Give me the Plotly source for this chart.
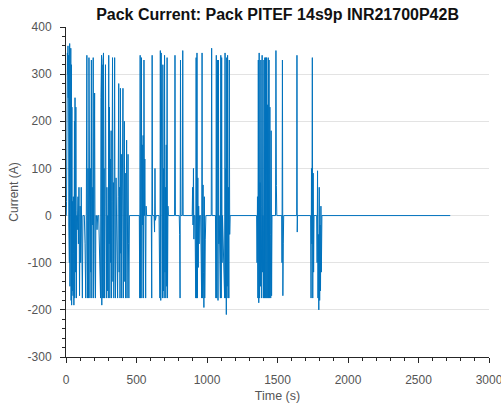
import plotly.graph_objects as go

# (time s, current A)
time_s = [
    0, 2, 4, 6, 8, 10, 12, 14, 16, 18, 20, 22, 24, 26, 28, 30, 32, 34, 36, 38, 40, 42, 44, 46, 48,
    50, 52, 54, 56, 58, 60, 62, 64, 66, 68, 70, 72, 74, 76, 80, 85, 88, 92, 96, 100, 104, 108, 112,
    116, 120, 125, 130, 135, 140, 144, 148, 150, 152, 156, 160, 163, 166, 168, 170, 173, 176, 180,
    183, 186, 190, 193, 196, 200, 203, 206, 209, 212, 216, 220, 225, 232, 240, 245, 248, 250, 252,
    254, 256, 258, 260, 262, 264, 266, 268, 270, 273, 276, 280, 283, 286, 290, 293, 296, 300, 303,
    306, 308, 311, 314, 317, 320, 323, 326, 330, 333, 336, 339, 342, 345, 348, 351, 355, 358, 362,
    366, 370, 374, 377, 380, 383, 386, 389, 392, 395, 398, 401, 404, 407, 410, 414, 417, 420, 423,
    426, 430, 433, 436, 440, 443, 446, 450, 455,
    520, 523, 526, 529, 532, 535, 538, 541, 544, 547, 550, 553, 556, 559, 562, 565, 568, 572, 605,
    608, 611, 614, 625, 628, 631, 634, 640, 660, 663, 666, 669, 672, 675, 678, 681, 684, 687, 690,
    693, 696, 699, 702, 705, 708, 711, 714, 717, 720, 723, 726, 770, 773, 776, 803, 806, 809, 812,
    815, 825, 828, 831, 890, 895, 898, 901, 904, 907, 910, 915,
    918, 920, 923, 926, 929, 932, 935, 938, 941, 944, 947, 955, 962, 965, 968, 972, 975, 978, 981,
    984, 988, 992, 1030, 1033, 1036, 1060, 1063, 1066, 1069, 1072, 1075, 1078, 1081, 1084, 1087,
    1095, 1098, 1101, 1104, 1107, 1110, 1125, 1128, 1131, 1134, 1137, 1140, 1143, 1146, 1149, 1152,
    1155, 1158, 1161, 1164,
    1352, 1355, 1358, 1361, 1364, 1367, 1370, 1373, 1376, 1379, 1382, 1385, 1388, 1391, 1394, 1397,
    1401, 1404, 1407, 1410, 1413, 1416, 1419, 1422, 1425, 1428, 1431, 1434, 1437, 1440, 1443, 1446,
    1449, 1452, 1455, 1458, 1461, 1486, 1489, 1492, 1495, 1530, 1532, 1535, 1538, 1541, 1544, 1636,
    1638, 1640, 1642, 1735, 1738, 1741, 1744, 1747, 1750, 1753, 1756, 1759, 1778, 1781, 1784, 1787,
    1790, 1793, 1796, 1799, 1802, 1805, 1808, 1811, 1815, 2725,
]

current_a = [
    0, 0, 30, 330, 320, 345, 300, 360, 250, 340, -20, 350, -100, 365, -150, 340, -60, 355, -180, 320,
    -190, 230, -160, 30, -120, -170, 40, -80, -190, 20, 200, -175, 250, -50, -120, 230, 10, -175, 0,
    -30, 40, -60, 60, -170, 20, -100, 60, -40, -175, 0, 0, 0, -60, -175, 0, 340, -10, -175, 100,
    -175, 335, -10, 330, -175, 100, -120, 330, -175, 60, -20, 335, -175, 50, 260, -80, -175, 0, 0,
    -30, 0, 0, -100, -175, 250, -120, 340, -190, 320, 50, -175, 330, -60, 345, -175, 100, -175, 20,
    320, -120, -175, 60, -160, 0, -175, 340, -60, 230, -175, 120, -100, 180, -175, 30, 335, -140, 70,
    -175, 20, 335, -90, -175, 80, -30, 0, -175, 40, 280, -120, 60, -175, 270, -80, 130, -175, 160,
    -40, 270, -175, 30, 200, -140, 90, -175, -30, 160, -175, 40, 130, -60, -175, 0, 0,
    0, -175, 340, -175, -50, 335, -175, 150, -20, 170, -175, 330, 0, 120, -90, -175, 20, 0, 0,
    -175, 340, 0, 0, -35, 100, -10, 0, 0, -100, -175, 350, -180, 345, -40, 200, -175, 320, -160,
    100, -175, 340, -120, 60, -175, 150, -150, 335, -175, 20, 0, 0, 340, 0, 0, -40, -175, 330,
    0, 0, 350, 0, 0, 0, 60, -20, 100, -50, 0, 0,
    -100, -175, 335, -175, 345, -175, 80, -110, 20, -60, 0, 0, -175, 345, -175, 65, -120, -195, 40,
    -175, -50, 0, 0, 355, 0, 0, -175, 340, -175, -20, 330, -180, 330, -60, 0,
    -175, 340, -175, 335, -100, 0, -175, 345, -175, 100, -210, 335, -150, 340, -175, 60,
    -175, 330, -40, 0,
    0, -100, 40, -175, 330, -185, 345, -175, 70, -150, 330, 20, -175, 340, -120, 0,
    -175, 330, -175, 335, -175, 335, -175, 335, -175, 235, -175, 335, -175, 330, -175, 230,
    -40, -175, 180, -170, 0, 0, 350, 64, 0, 0, -100, 330, -170, -60, 0, 0,
    340, -35, 0, 0, -175, 100, -60, 335, -175, 90, -120, 0, 0, -100, 95, -175,
    -40, -200, 60, -180, -20, -160, 20, -120, 0, 0,
]

x_ticks = [0, 500, 1000, 1500, 2000, 2500, 3000]
y_ticks = [-300, -200, -100, 0, 100, 200, 300, 400]

FONT = "Liberation Sans, Arial, sans-serif"
AXIS_COLOR = "#262626"
LABEL_COLOR = "#555555"

fig = go.Figure()
fig.add_trace(go.Scatter(
    x=time_s, y=current_a, mode="lines",
    line=dict(color="#0072BD", width=1),
    showlegend=False, hoverinfo="skip",
))

fig.update_layout(
    width=501, height=407,
    margin=dict(l=66, r=12, t=27, b=50, autoexpand=False),
    paper_bgcolor="white", plot_bgcolor="white",
    title=dict(
        text="<b>Pack Current: Pack PITEF 14s9p INR21700P42B</b>",
        x=0.554, xanchor="center", y=(407 - 14.5) / 407, yanchor="middle",
        font=dict(family=FONT, size=16, color="#111111"),
    ),
    font=dict(family=FONT),
)

fig.update_xaxes(
    range=[0, 3000], tickvals=x_ticks, ticktext=[str(v) for v in x_ticks],
    showgrid=False, zeroline=False, automargin=False,
    showline=True, linecolor=AXIS_COLOR, linewidth=1,
    ticks="outside", ticklen=5, tickcolor=AXIS_COLOR,
    minor=dict(dtick=100, ticks="outside", ticklen=3, tickcolor=AXIS_COLOR, showgrid=False),
    tickfont=dict(family=FONT, size=12, color=LABEL_COLOR),
    ticklabelstandoff=7, ticklabeloverflow="allow",
    title=dict(text="Time (s)", font=dict(family=FONT, size=12.5, color=LABEL_COLOR), standoff=4),
)
fig.update_yaxes(
    range=[-300, 400], tickvals=y_ticks, ticktext=[str(v) for v in y_ticks],
    showgrid=True, gridcolor="#e3e3e3", gridwidth=1, zeroline=False, automargin=False,
    showline=True, linecolor=AXIS_COLOR, linewidth=1,
    ticks="outside", ticklen=5, tickcolor=AXIS_COLOR,
    minor=dict(dtick=20, ticks="outside", ticklen=3, tickcolor=AXIS_COLOR, showgrid=False),
    tickfont=dict(family=FONT, size=12, color=LABEL_COLOR),
    ticklabelstandoff=6,
    title=dict(text="Current (A)", font=dict(family=FONT, size=12, color=LABEL_COLOR), standoff=6),
)

fig.write_html("out.html")
